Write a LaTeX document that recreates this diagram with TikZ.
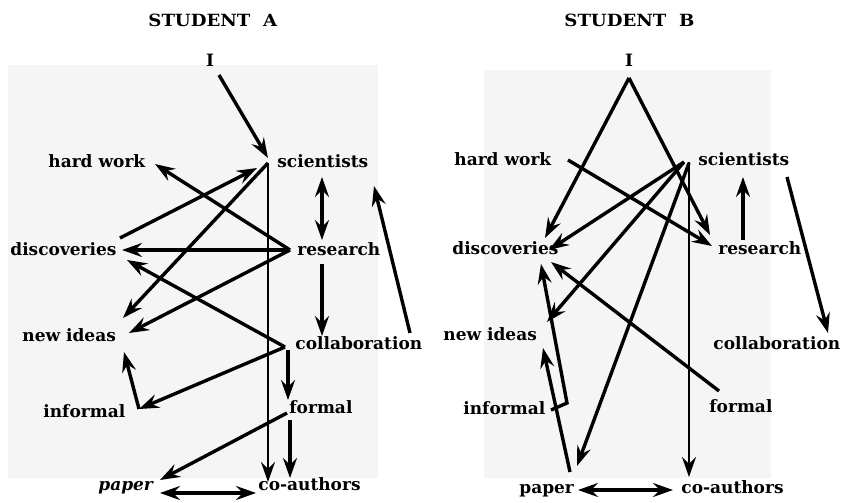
\documentclass[tikz,border=0pt]{standalone}
\usepackage{fontspec}
\usepackage{graphicx}
\setmainfont{DejaVu Serif}
\usetikzlibrary{arrows.meta}
\tikzset{
  lbl/.style={font=\bfseries\fontsize{8.5}{10}\selectfont, inner sep=0pt, anchor=base west},
  ttl/.style={font=\bfseries\fontsize{8.4}{10}\selectfont, inner sep=0pt, anchor=base west},
  conn/.style={line width=1.7pt, -{Stealth[length=10pt,width=7pt,inset=3.5pt]}},
  both/.style={line width=1.7pt, {Stealth[length=10pt,width=7pt,inset=3.5pt]}-{Stealth[length=10pt,width=7pt,inset=3.5pt]}},
  thinconn/.style={line width=1pt, -{Stealth[length=10pt,width=7pt,inset=3.5pt]}},
  panel/.style={fill=black!4, draw=none}
}
\begin{document}
\begin{tikzpicture}[x=0.5pt,y=-0.5pt]
\useasboundingbox (0,0) rectangle (843,503);
\fill[white] (0,0) rectangle (843,503);
\fill[panel] (8,65) rectangle (378,478);
\fill[panel] (484,70) rectangle (771,478);

% ---------------- STUDENT A ----------------
\node[ttl] (Atitle) at (148,26) {\scalebox{1.08}[1]{STUDENT\ \ A}};
\node[lbl, anchor=base] (AI) at (210,67) {I};
\node[lbl] (Ahw) at (48,168) {hard work};
\node[lbl] (Asc) at (277,168) {scientists};
\node[lbl] (Adi) at (10,256) {discoveries};
\node[lbl] (Are) at (297,256) {research};
\node[lbl] (Ani) at (22,342) {new ideas};
\node[lbl] (Aco) at (295,350) {collaboration};
\node[lbl] (Ainfl) at (43,417) {informal};
\node[lbl] (Afo) at (289,413) {formal};
\node[lbl] (Apa) at (98,490) {\itshape paper};
\node[lbl] (Aca) at (258,490) {co-authors};

\coordinate (AIo) at (219,75);
\coordinate (Asci) at (268,158);
\coordinate (AsciO) at (268,163);
\coordinate (AsciW) at (257,168);
\coordinate (AsrT) at (322,177);
\coordinate (AsrB) at (322,240);
\coordinate (AsciE) at (374,186);
\coordinate (AcolE) at (410,333);
\coordinate (AresO) at (290,250);
\coordinate (AresD) at (322,264);
\coordinate (AcolT) at (322,336);
\coordinate (AhwE) at (155,164);
\coordinate (AdiscE) at (122,250);
\coordinate (AdiscO) at (120,238);
\coordinate (AdiscL) at (127,260);
\coordinate (AniT) at (123,318);
\coordinate (AniR) at (129,333);
\coordinate (AniB) at (124,352);
\coordinate (AcolO) at (285,347);
\coordinate (Ainf) at (139,409);
\coordinate (AcolD) at (288,350);
\coordinate (AforT) at (288,400);
\coordinate (AforO) at (287,413);
\coordinate (AforD) at (290,420);
\coordinate (AcoT) at (290,478);
\coordinate (AcoV) at (268,482);
\coordinate (ApapE) at (160,480);
\coordinate (ApapR) at (160,493);
\coordinate (AcoL) at (256,493);

\draw[conn] (AIo) -- (Asci);
\draw[both] (AsrT) -- (AsrB);
\draw[conn] (AcolE) -- (AsciE);
\draw[conn] (AresD) -- (AcolT);
\draw[conn] (AresO) -- (AhwE);
\draw[conn] (AresO) -- (AdiscE);
\draw[conn] (AdiscO) -- (AsciW);
\draw[conn] (AsciO) -- (AniT);
\draw[conn] (AresO) -- (AniR);
\draw[conn] (AcolO) -- (AdiscL);
\draw[conn] (AcolO) -- (Ainf);
\draw[conn] (Ainf) -- (AniB);
\draw[conn] (AcolD) -- (AforT);
\draw[thinconn] (AsciO) -- (AcoV);
\draw[conn] (AforD) -- (AcoT);
\draw[conn] (AforO) -- (ApapE);
\draw[both] (ApapR) -- (AcoL);

% ---------------- STUDENT B ----------------
\node[ttl] (Btitle) at (564,26) {\scalebox{1.08}[1]{STUDENT\ \ B}};
\node[lbl, anchor=base] (BI) at (629,67) {I};
\node[lbl] (Bhw) at (454,165) {hard work};
\node[lbl] (Bsc) at (698,165) {scientists};
\node[lbl] (Bdi) at (452,255) {discoveries};
\node[lbl] (Bre) at (718,255) {research};
\node[lbl] (Bni) at (443,340) {new ideas};
\node[lbl] (Bco) at (713,350) {collaboration};
\node[lbl] (Binfl) at (463,415) {informal};
\node[lbl] (Bfo) at (709,412) {formal};
\node[lbl] (Bpa) at (519,493) {paper};
\node[lbl] (Bca) at (681,493) {co-authors};

\coordinate (BIo) at (629,78);
\coordinate (BdiscI) at (545,238);
\coordinate (BresI) at (710,235);
\coordinate (BhwE) at (568,160);
\coordinate (BresH) at (712,246);
\coordinate (Bsci) at (684,162);
\coordinate (BdiscS) at (549,250);
\coordinate (BniS) at (547,322);
\coordinate (BsciP) at (689,163);
\coordinate (BpapS) at (577,466);
\coordinate (BsciV) at (689,162);
\coordinate (BcoT) at (689,477);
\coordinate (BresU) at (743,240);
\coordinate (BsciB) at (743,177);
\coordinate (BsciE) at (787,177);
\coordinate (BcolT) at (828,333);
\coordinate (BforO) at (719,391);
\coordinate (BdiscF) at (551,262);
\coordinate (BpapO) at (570,472);
\coordinate (BniP) at (543,348);
\coordinate (BinfE) at (551,410);
\coordinate (Bbr) at (567,403);
\coordinate (BdiscN) at (541,264);
\coordinate (BpapR) at (578,490);
\coordinate (BcoL) at (673,490);

\draw[conn] (BIo) -- (BdiscI);
\draw[conn] (BIo) -- (BresI);
\draw[conn] (BhwE) -- (BresH);
\draw[conn] (Bsci) -- (BdiscS);
\draw[conn] (Bsci) -- (BniS);
\draw[conn] (BsciP) -- (BpapS);
\draw[thinconn] (BsciV) -- (BcoT);
\draw[conn] (BresU) -- (BsciB);
\draw[conn] (BsciE) -- (BcolT);
\draw[conn] (BforO) -- (BdiscF);
\draw[conn] (BpapO) -- (BniP);
\draw[conn] (BinfE) -- (Bbr) -- (BdiscN);
\draw[both] (BpapR) -- (BcoL);
\end{tikzpicture}
\end{document}
